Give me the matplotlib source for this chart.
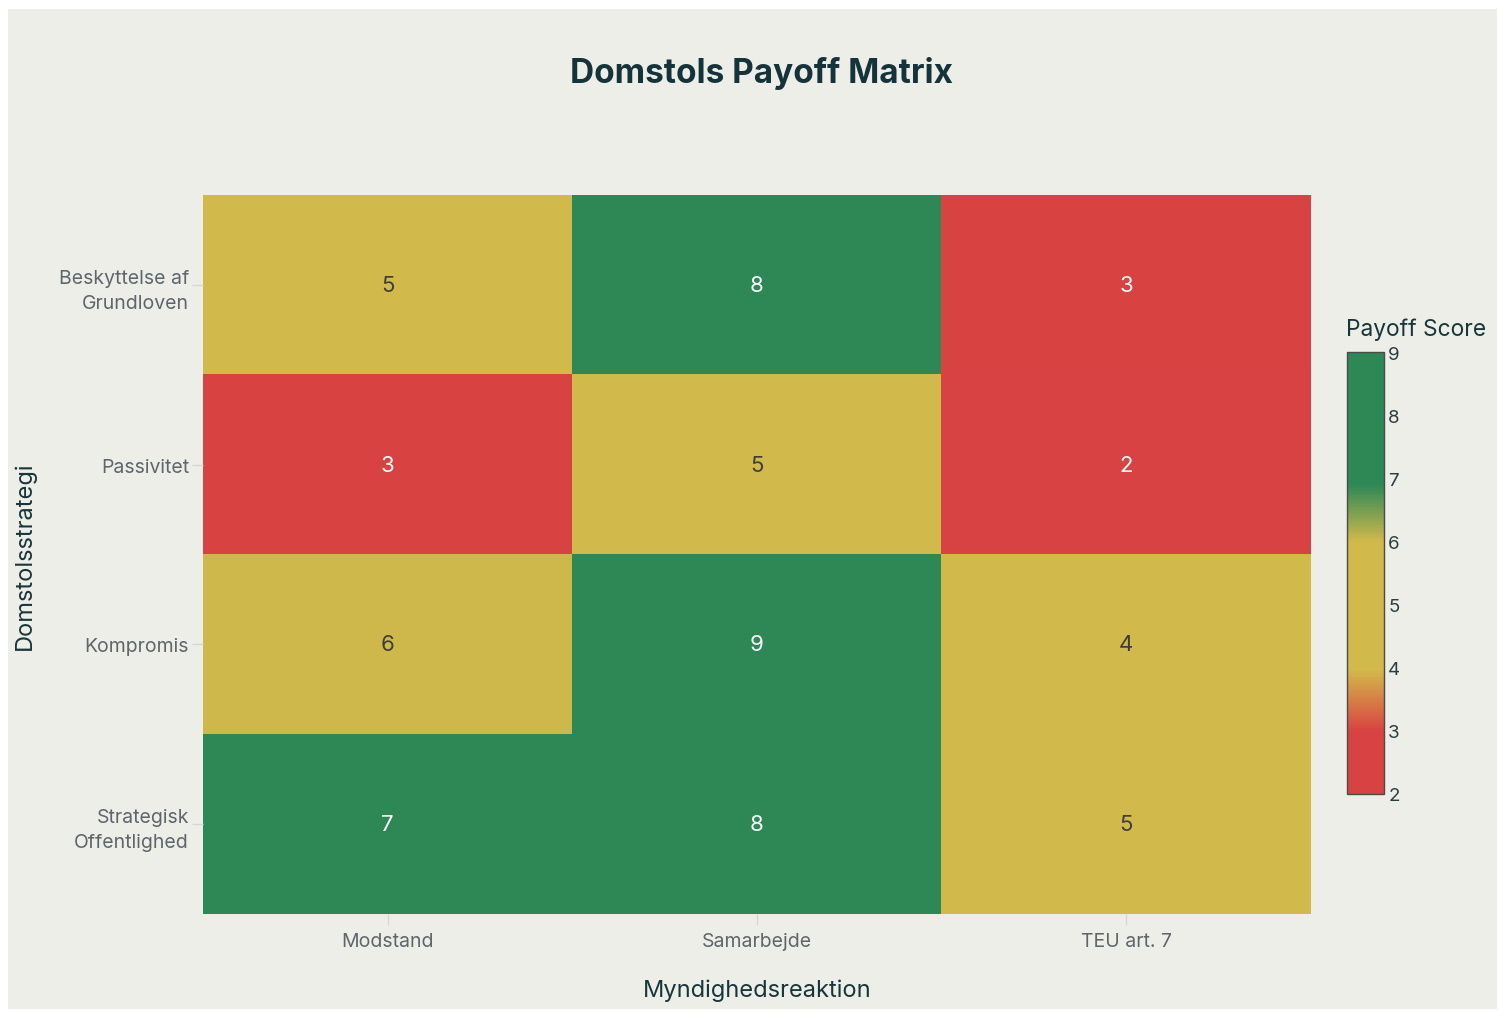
import numpy as np
import matplotlib.pyplot as plt
from matplotlib.colors import LinearSegmentedColormap
from matplotlib.patches import Rectangle

plt.rcParams['font.family'] = ['Inter', 'DejaVu Sans']

# data
strategies = ['Beskyttelse af\nGrundloven', 'Passivitet', 'Kompromis', 'Strategisk\nOffentlighed']
reactions = ['Modstand', 'Samarbejde', 'TEU art. 7']
payoffs = np.array([
    [5, 8, 3],
    [3, 5, 2],
    [6, 9, 4],
    [7, 8, 5],
])

red = '#D94242'
yellow = '#D2B94B'
green = '#2E8856'
cmap = LinearSegmentedColormap.from_list('payoff', [
    (0.0, red), (0.14, red), (0.28, yellow), (0.57, yellow), (0.7, green), (1.0, green)])

bg = '#EEEEE9'
fig = plt.figure(figsize=(14.99, 10.12), dpi=100, facecolor='white')
fig.patches.append(Rectangle((8 / 1499, 2 / 1012), 1489 / 1499, 1000 / 1012,
                             transform=fig.transFigure, facecolor=bg, edgecolor='none', zorder=-10))

ax = fig.add_axes([203 / 1499, 97 / 1012, 1108 / 1499, 719 / 1012])
ax.set_facecolor(bg)
im = ax.imshow(payoffs, cmap=cmap, vmin=2, vmax=9, aspect='auto', interpolation='nearest')

for i in range(len(strategies)):
    for j in range(len(reactions)):
        v = payoffs[i, j]
        col = '#3D3D3D' if 4 <= v <= 6 else 'white'
        ax.text(j, i, str(v), ha='center', va='center', fontsize=16, color=col)

ax.set_xticks(range(len(reactions)))
ax.set_xticklabels(reactions)
ax.set_yticks(range(len(strategies)))
ax.set_yticklabels(strategies, linespacing=1.5)
ax.tick_params(axis='both', length=8, width=1, color='#D6D6D6', labelcolor='#5E666B', labelsize=14)
ax.tick_params(axis='y', pad=2)
ax.tick_params(axis='x', pad=5)
for s in ax.spines.values():
    s.set_visible(False)

fig.text(757 / 1499, 1 - 991 / 1012, 'Myndighedsreaktion', ha='center', va='center',
         fontsize=17, color='#16363A')
fig.text(25 / 1499, 1 - 556 / 1012, 'Domstolsstrategi', ha='center', va='center',
         rotation=90, fontsize=17, color='#16363A')

fig.text(762 / 1499, 1 - 73 / 1012, 'Domstols Payoff Matrix', ha='center', va='center',
         fontsize=24, fontweight='bold', color='#14333A')

cax = fig.add_axes([1347 / 1499, 217 / 1012, 37 / 1499, 442 / 1012])
cb = fig.colorbar(im, cax=cax, ticks=range(2, 10))
cb.outline.set_edgecolor('#4A4A4A')
cb.outline.set_linewidth(1)
cax.tick_params(length=0, labelsize=13.5, labelcolor='#2B3D40', pad=3)
fig.text(1346 / 1499, 1 - 330 / 1012, 'Payoff Score', ha='left', va='center',
         fontsize=16.4, color='#16363A')

fig.savefig('out.png', dpi=100, facecolor='white')
